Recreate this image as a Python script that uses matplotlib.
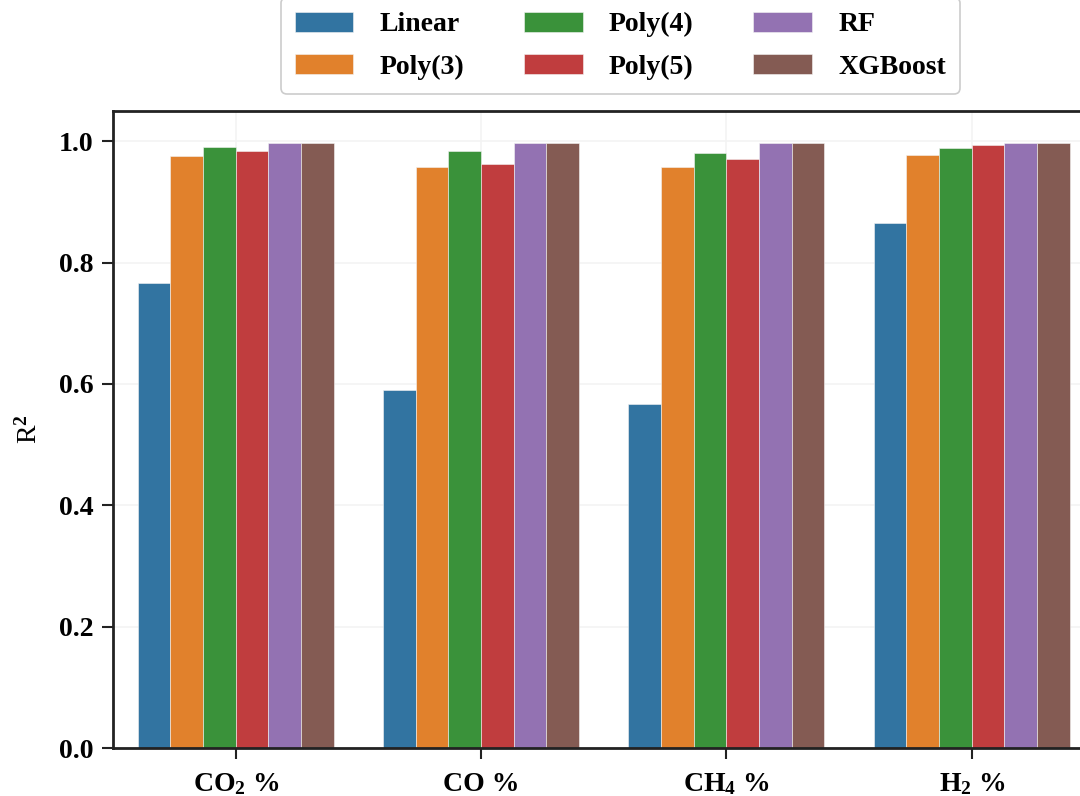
import numpy as np
import matplotlib
matplotlib.use("Agg")
import matplotlib.pyplot as plt

# data
targets = ['CO$_2$ %', 'CO %', 'CH$_4$ %', 'H$_2$ %']
models = ['Linear', 'Poly(3)', 'Poly(4)', 'Poly(5)', 'RF', 'XGBoost']
r2_linear = [0.766, 0.590, 0.567, 0.866]
r2_poly3 = [0.975, 0.958, 0.958, 0.977]
r2_poly4 = [0.991, 0.984, 0.981, 0.989]
r2_poly5 = [0.984, 0.963, 0.970, 0.994]
r2_rf = [0.998, 0.998, 0.998, 0.998]
r2_xgb = [0.998, 0.998, 0.998, 0.998]
colors = ['#3274a1', '#e1812c', '#3a923a', '#c03d3e', '#9372b2', '#845b53']

plt.rcParams['font.family'] = 'Liberation Serif'
plt.rcParams['font.weight'] = 'bold'
plt.rcParams['font.size'] = 20
plt.rcParams['mathtext.fontset'] = 'custom'
plt.rcParams['mathtext.rm'] = 'Liberation Serif:bold'
plt.rcParams['mathtext.it'] = 'Liberation Serif:italic:bold'
plt.rcParams['mathtext.bf'] = 'Liberation Serif:bold'

fig = plt.figure(figsize=(10.8, 7.96), dpi=100)
ax = fig.add_axes([0.1046, 0.0603, 0.9087, 0.8003])

series = [r2_linear, r2_poly3, r2_poly4, r2_poly5, r2_rf, r2_xgb]
x = np.arange(len(targets))
w = 0.8 / len(models)
for i, vals in enumerate(series):
    ax.bar(x - 0.4 + w * (i + 0.5), vals, width=w, color=colors[i],
           edgecolor='#f4f4f4', linewidth=0.4, label=models[i], zorder=2)

ax.set_xlim(-0.5, 3.5)
ax.set_ylim(0, 1.05)
ax.set_xticks(x)
ax.set_xticklabels(targets)
ax.set_yticks([0.0, 0.2, 0.4, 0.6, 0.8, 1.0])
ax.set_ylabel('R$^2$', labelpad=12)
ax.grid(True, color='#f3f3f3', linewidth=1.2, zorder=0)
ax.set_axisbelow(True)
for s in ax.spines.values():
    s.set_color('#222222')
    s.set_linewidth(2)
ax.tick_params(axis='both', length=8, width=1.5, color='#222222', pad=6)
ax.tick_params(axis='x', pad=9)

leg = fig.legend(loc='lower center', bbox_to_anchor=(0.5745, 0.8647), ncol=3,
                 handlelength=2.1, handleheight=0.75, handletextpad=0.95,
                 columnspacing=2.15, labelspacing=0.6, fancybox=True,
                 framealpha=1, edgecolor='#cccccc', borderpad=0.5)
leg.get_frame().set_linewidth(1.2)

plt.savefig('out.png', dpi=100)
